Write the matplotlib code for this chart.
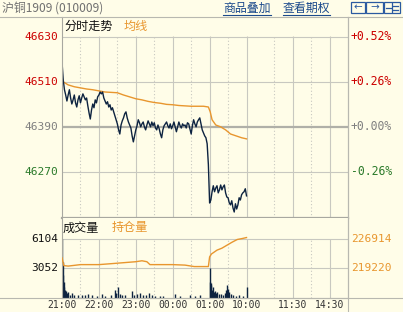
import matplotlib
matplotlib.use('Agg')
import matplotlib.pyplot as plt
from matplotlib.lines import Line2D
from matplotlib.patches import Rectangle

# ---------------- data ----------------
price_step = 2  # minutes between price samples
price = [46563, 46515, 46489, 46475, 46459, 46475, 46489, 46467, 46451, 46462,
         46475, 46454, 46443, 46462, 46473, 46454, 46467, 46478, 46470, 46462,
         46467, 46446, 46427, 46411, 46435, 46451, 46441, 46462, 46454, 46470,
         46475, 46483, 46478, 46483, 46467, 46459, 46451, 46457, 46443, 46449,
         46435, 46441, 46430, 46419, 46409, 46398, 46382, 46371, 46395, 46406,
         46414, 46425, 46430, 46414, 46403, 46395, 46387, 46366, 46350, 46366,
         46382, 46393, 46409, 46401, 46390, 46398, 46403, 46390, 46382, 46395,
         46406, 46398, 46390, 46403, 46393, 46401, 46387, 46382, 46395, 46385,
         46371, 46361, 46382, 46393, 46398, 46403, 46393, 46387, 46398, 46385,
         46393, 46403, 46390, 46377, 46390, 46403, 46393, 46387, 46398, 46393,
         46395, 46387, 46401, 46398, 46385, 46371, 46393, 46409, 46398, 46390,
         46403, 46409, 46414, 46398, 46382, 46374, 46366, 46361, 46345, 46289,
         46187, 46195, 46217, 46233, 46217, 46227, 46233, 46214, 46222, 46235,
         46222, 46230, 46235, 46214, 46203, 46201, 46187, 46182, 46193, 46174,
         46163, 46185, 46171, 46182, 46201, 46195, 46209, 46214, 46217, 46225,
         46206]

avg_min = [0, 2, 10, 20, 30, 40, 50, 60, 70, 80, 90, 100, 110, 120, 130, 140,
           150, 160, 170, 180, 190, 200, 210, 220, 230, 238, 241, 244, 250, 258,
           266, 274, 283, 292, 300]
avg_price = [46523, 46510, 46502, 46497, 46494, 46491, 46489, 46486, 46483, 46482,
             46481, 46475, 46470, 46465, 46462, 46458, 46455, 46453, 46450, 46449,
             46447, 46446, 46445, 46445, 46445, 46443, 46430, 46409, 46395, 46390,
             46382, 46371, 46366, 46361, 46358]

oi_min = [0, 3, 10, 30, 60, 80, 100, 120, 130, 138, 143, 180, 200, 215, 238,
          240, 243, 252, 260, 268, 276, 285, 293, 300]
oi_val = [222040, 219990, 219860, 220250, 220250, 220500, 220760, 221020, 221270,
          221020, 220250, 220250, 220120, 219733, 219733, 222300, 223070, 224090,
          224610, 225380, 226150, 226920, 227170, 227430]

vol_min = [0, 1, 2, 3, 4, 5, 6, 8, 10, 13, 16, 20, 26, 32, 37, 42, 48, 57, 65, 70,
           80, 86, 88, 91, 94, 98, 102, 114, 117, 122, 127, 132, 137, 141, 146,
           151, 159, 164, 184, 192, 208, 216, 224,
           240, 241, 242, 243, 244, 246, 247, 248, 250, 252, 255, 258, 262, 265,
           267, 269, 270, 272, 275, 278, 283, 288, 294, 300]
vol_val = [6104, 3700, 2400, 1650, 1100, 800, 650, 430, 600, 300, 480, 250, 300,
           300, 250, 380, 250, 200, 350, 200, 250, 800, 500, 1100, 400, 300, 250,
           700, 300, 350, 500, 300, 250, 500, 300, 200, 200, 200, 400, 200, 250,
           200, 250,
           3052, 1650, 1500, 1300, 800, 1100, 600, 700, 500, 600, 400, 350, 300,
           500, 800, 1300, 900, 600, 400, 300, 200, 250, 200, 1100]

time_ticks = [0, 60, 120, 180, 240, 300, 375, 435]
time_labels = ['21:00', '22:00', '23:00', '00:00', '01:00', '10:00', '11:30', '14:30']
half_ticks = [30, 90, 150, 210, 270, 345, 405]
price_ticks = [46630, 46510, 46390, 46270]
pct_labels = ['+0.52%', '+0.26%', '+0.00%', '-0.26%']
vol_ticks = [6104, 3052]
oi_ticks = [226914, 219220]

# ---------------- style ----------------
W, H = 403, 312
BG = '#FFFDE8'
GRID = '#C8C8C0'
NAVY = '#0D2340'
ORANGE = '#E8962E'
RED = '#CC0000'
GREEN = '#2A7A2A'
GRAY = '#808080'
CJK = ['Noto Sans CJK SC', 'DejaVu Sans']
MONO = 'DejaVu Sans Mono'

fig = plt.figure(figsize=(W / 100, H / 100), dpi=100, facecolor=BG)


def fx(px):
    return px / W


def fy(py):
    return 1 - py / H


X0, X1 = 62, 348
ax = fig.add_axes([fx(X0), fy(218), (X1 - X0) / W, 201 / H])
ax.set_facecolor(BG)
ax.set_xlim(0, 465)
ax.set_ylim(46147, 46683)
for s in ax.spines.values():
    s.set_color('#A8A8A0')
    s.set_linewidth(0.8)
ax.spines['bottom'].set_linewidth(1.6)
ax.spines['top'].set_visible(False)
ax.set_xticks([])
ax.set_yticks([])

# grid
for t in time_ticks[1:]:
    ax.vlines(t, 46147, 46632, color=GRID, lw=0.8)
for t in half_ticks:
    ax.vlines(t, 46147, 46632, color=GRID, lw=0.8, linestyles=(0, (1, 2)))
for p in price_ticks:
    if p == 46390:
        ax.axhline(p, color='#B0B0A8', lw=1.6)
    else:
        ax.axhline(p, color=GRID, lw=0.8)

pm = [i * price_step for i in range(len(price))]
ax.plot(avg_min, avg_price, color=ORANGE, lw=1.0)
ax.plot(pm, price, color=NAVY, lw=1.0)

# price labels
lab_col = [RED, RED, GRAY, GREEN]
for p, c, pl in zip(price_ticks, lab_col, pct_labels):
    ax.text(-0.012, p, str(p), transform=ax.get_yaxis_transform(), ha='right',
            va='center', color=c, fontsize=8, family=MONO)
    ax.text(1.01, p, pl, transform=ax.get_yaxis_transform(), ha='left',
            va='center', color=c, fontsize=8.3, family=MONO)

fig.text(fx(64), fy(26.5), '分时走势', color='#111111', fontsize=8.7, family=CJK,
         ha='left', va='center')
fig.text(fx(124), fy(26.5), '均线', color=ORANGE, fontsize=8.7, family=CJK,
         ha='left', va='center')

# volume panel
axv = fig.add_axes([fx(X0), fy(297.5), (X1 - X0) / W, 79.5 / H])
axv.set_facecolor(BG)
axv.set_xlim(0, 465)
axv.set_ylim(0, 8365)
for s in axv.spines.values():
    s.set_color('#A8A8A0')
    s.set_linewidth(0.8)
axv.spines['top'].set_visible(False)
axv.set_xticks([])
axv.set_yticks([])
for t in time_ticks[1:]:
    axv.vlines(t, 0, 6150, color=GRID, lw=0.8)
for t in half_ticks:
    axv.vlines(t, 0, 6150, color=GRID, lw=0.8, linestyles=(0, (1, 2)))
for v in vol_ticks:
    axv.axhline(v, color=GRID, lw=0.8)
axv.vlines(vol_min, 0, vol_val, color=NAVY, lw=1.0)
for v in vol_ticks:
    axv.text(-0.012, v, str(v), transform=axv.get_yaxis_transform(), ha='right',
             va='center', color='#111111', fontsize=8, family=MONO)

axo = axv.twinx()
axo.set_xlim(0, 465)
axo.set_ylim(211526, 232618)
axo.axis('off')
axo.plot(oi_min, oi_val, color=ORANGE, lw=1.0)
for v in oi_ticks:
    axo.text(1.01, v, str(v), transform=axo.get_yaxis_transform(), ha='left',
             va='center', color=ORANGE, fontsize=8, family=MONO)

fig.text(fx(63), fy(228), '成交量', color='#111111', fontsize=8.7, family=CJK,
         ha='left', va='center')
fig.text(fx(112), fy(228), '持仓量', color=ORANGE, fontsize=8.7, family=CJK,
         ha='left', va='center')

# time labels
for t, lab in zip(time_ticks, time_labels):
    axv.text(t, -0.1, lab, transform=axv.get_xaxis_transform(), ha='center',
             va='center', color='#333333', fontsize=7, family=MONO)

# frame lines
fig.add_artist(Line2D([0, 1], [fy(17), fy(17)], color='#B8B8B0', lw=0.8))
fig.add_artist(Line2D([0, 1], [fy(297.5), fy(297.5)], color='#B8B8B0', lw=0.8))
fig.add_artist(Line2D([fx(X1), fx(X1)], [fy(17), 0], color='#B8B8B0', lw=0.8))

# header
fig.text(fx(2), fy(8.5), '沪铜1909 (010009)', color='#707070', fontsize=8.6,
         family=CJK, ha='left', va='center')
LINK = '#1C4A8C'
for x0, x1, s in [(223, 271, '商品叠加'), (283, 330, '查看期权')]:
    fig.text(fx(x0), fy(8), s, color=LINK, fontsize=8.6, family=CJK,
             ha='left', va='center')
    fig.add_artist(Line2D([fx(x0), fx(x1)], [fy(14.5), fy(14.5)], color=LINK, lw=0.8))

ICON = '#2B5AA0'
for bx0, bx1, sym in [(351, 365, '←'), (366, 383, '→'), (384, 400, '')]:
    fig.add_artist(Rectangle((fx(bx0), fy(13)), (bx1 - bx0) / W, 11 / H,
                             fill=False, edgecolor=ICON, lw=0.9))
    if sym:
        fig.text(fx((bx0 + bx1) / 2), fy(7.5), sym, color=ICON, fontsize=7.5,
                 ha='center', va='center', family='DejaVu Sans')
fig.add_artist(Line2D([fx(392), fx(392)], [fy(3), fy(12)], color=ICON, lw=0.9))
fig.add_artist(Line2D([fx(386), fx(391)], [fy(7.5), fy(7.5)], color=ICON, lw=0.9))
fig.add_artist(Line2D([fx(393), fx(398)], [fy(5.5), fy(5.5)], color=ICON, lw=0.9))
fig.add_artist(Line2D([fx(393), fx(398)], [fy(9.5), fy(9.5)], color=ICON, lw=0.9))

fig.savefig('out.png', dpi=100, facecolor=BG)
